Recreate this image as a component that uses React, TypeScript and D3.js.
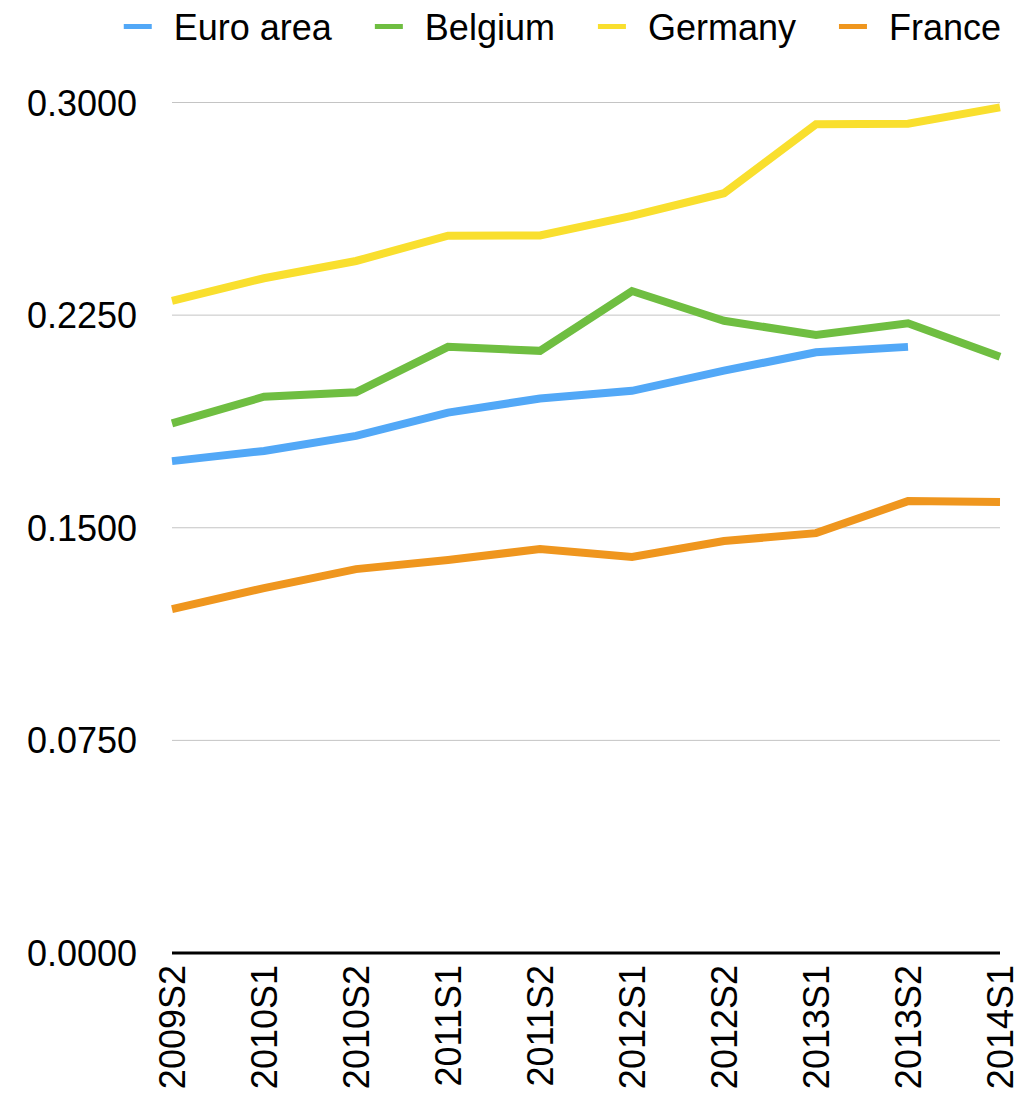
import React, { useEffect } from "react";
import * as d3 from "d3";

const categories = ["2009S2", "2010S1", "2010S2", "2011S1", "2011S2", "2012S1", "2012S2", "2013S1", "2013S2", "2014S1"];
const euroArea = [0.1735, 0.1771, 0.1824, 0.1906, 0.1956, 0.1983, 0.2054, 0.2119, 0.2138, null];
const belgium = [0.1868, 0.1962, 0.1978, 0.2138, 0.2124, 0.2335, 0.2230, 0.2180, 0.2221, 0.2103];
const germany = [0.2300, 0.2380, 0.2441, 0.2530, 0.2531, 0.2600, 0.2680, 0.2923, 0.2925, 0.2983];
const france = [0.1213, 0.1287, 0.1354, 0.1386, 0.1425, 0.1397, 0.1453, 0.1481, 0.1594, 0.1591];
const yTicks = [0, 0.075, 0.15, 0.225, 0.3];

const seriesNames = ["Euro area", "Belgium", "Germany", "France"];
const seriesColors = ["#52a8f7", "#6fbe41", "#f9df2e", "#ef961e"];
const seriesValues = [euroArea, belgium, germany, france];

const W = 1032;
const H = 1097;
const FONT = "'Liberation Sans', Arial, Helvetica, sans-serif";

function measure(text: string, size: number): number {
  const c = document.createElement("canvas");
  const ctx = c.getContext("2d");
  if (!ctx) return text.length * size * 0.55;
  ctx.font = `${size}px 'Liberation Sans'`;
  return ctx.measureText(text).width;
}

export default function App() {
  useEffect(() => {
    document.body.style.margin = "0";
  }, []);

  const x = d3.scalePoint<string>().domain(categories).range([172, 1000]);
  const y = d3.scaleLinear().domain([0, 0.3]).range([953, 102.5]);

  const line = d3
    .line<number | null>()
    .defined((d) => d !== null)
    .x((_, i) => x(categories[i]) as number)
    .y((d) => y(d as number));

  // legend layout (right aligned)
  const legendFont = 36;
  const swatchW = 28;
  const swatchGap = 22;
  const itemGap = 43;
  const widths = seriesNames.map((n) => measure(n, legendFont));
  const totalW = widths.reduce((a, w) => a + swatchW + swatchGap + w, 0) + itemGap * (seriesNames.length - 1);
  let cursor = 1001 - totalW;
  const legendItems = seriesNames.map((n, i) => {
    const item = { name: n, color: seriesColors[i], x: cursor };
    cursor += swatchW + swatchGap + widths[i] + itemGap;
    return item;
  });

  return (
    <svg width={W} height={H} style={{ display: "block", background: "#fff" }} fontFamily={FONT}>
      {/* gridlines */}
      {yTicks.filter((t) => t > 0).map((t) => (
        <line key={t} x1={172} x2={1000} y1={y(t)} y2={y(t)} stroke="#c4c4c4" strokeWidth={1} />
      ))}
      {/* y labels */}
      {yTicks.map((t) => (
        <text key={t} x={137} y={y(t) + 13} textAnchor="end" fontSize={36} fill="#000">
          {d3.format(".4f")(t)}
        </text>
      ))}
      {/* x axis */}
      <line x1={172} x2={1000} y1={y(0)} y2={y(0)} stroke="#000" strokeWidth={3} />
      {categories.map((c) => (
        <text
          key={c}
          transform={`translate(${(x(c) as number) + 13},965) rotate(-90)`}
          textAnchor="end"
          fontSize={36}
          fill="#000"
        >
          {c}
        </text>
      ))}
      {/* lines */}
      {seriesValues.map((vals, i) => (
        <path
          key={seriesNames[i]}
          d={line(vals) || ""}
          fill="none"
          stroke={seriesColors[i]}
          strokeWidth={8}
          strokeLinejoin="miter"
          strokeLinecap="butt"
        />
      ))}
      {/* legend */}
      {legendItems.map((it) => (
        <g key={it.name}>
          <line x1={it.x} x2={it.x + swatchW} y1={26.5} y2={26.5} stroke={it.color} strokeWidth={5} />
          <text x={it.x + swatchW + swatchGap} y={39.5} fontSize={legendFont} fill="#000">
            {it.name}
          </text>
        </g>
      ))}
    </svg>
  );
}
